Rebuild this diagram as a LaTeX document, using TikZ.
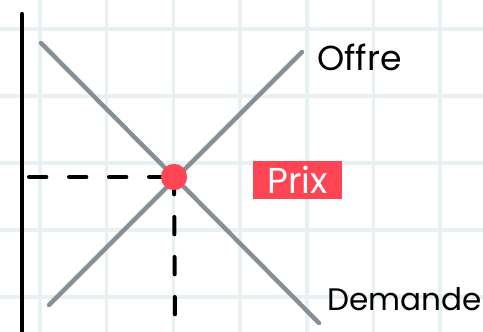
\documentclass[tikz,border=0pt]{standalone}
\usepackage{fontspec}
\setmainfont{Poppins}
\usepackage{xcolor}
\usepackage{tikz}
\usetikzlibrary{positioning,calc}

\definecolor{gridline}{HTML}{E8F0F1}
\definecolor{curvegray}{HTML}{868E96}
\definecolor{pricered}{HTML}{FF4553}

\tikzset{
  curve/.style={draw=curvegray, line width=3.3pt, line cap=round},
  guide/.style={draw=black, line width=3pt, line cap=round,
    dash pattern=on 13pt off 17pt},
  axisline/.style={draw=black, line width=3.2pt, line cap=round},
  eqdot/.style={circle, fill=pricered, minimum size=19.5pt, inner sep=0pt},
  tagbox/.style={fill=pricered, text=white, minimum width=66.75pt,
    minimum height=28.5pt, inner sep=0pt, font=\fontsize{27}{27}\selectfont},
  curvelabel/.style={text=black, inner sep=0pt, anchor=west,
    font=\fontsize{26}{26}\selectfont}
}

\begin{document}
\begin{tikzpicture}[x=0.75pt, y=0.75pt]
  \useasboundingbox (0,0) rectangle (483,332);
  \fill[white] (0,0) rectangle (483,332);

  % Squared paper behind the sketch.
  \foreach \column in {0,...,6} {
    \pgfmathsetmacro{\gx}{40+\column*66.7}
    \draw[gridline, line width=2.6pt] (\gx,0) -- (\gx,332);
  }
  \foreach \row in {0,...,4} {
    \pgfmathsetmacro{\gy}{303-\row*67}
    \draw[gridline, line width=2.6pt] (0,\gy) -- (483,\gy);
  }

  % Price axis.
  \coordinate (axis-top)    at (22,318);
  \coordinate (axis-bottom) at (22,-2);
  \draw[axisline] (axis-top) -- (axis-bottom);

  % Both curves, crossing at the equilibrium point.
  \coordinate (demand-start) at (41,289);
  \coordinate (demand-end)   at (319,9);
  \coordinate (supply-start) at (49,27);
  \coordinate (supply-end)   at (302,280);
  \draw[curve] (demand-start) -- (demand-end);
  \draw[curve] (supply-start) -- (supply-end);

  % Read-off lines towards the axis and down.
  \coordinate (price-foot) at (29,155);
  \coordinate (qty-foot)   at (175,9);
  \node[eqdot] (eq) at (174,155) {};
  \draw[guide] (price-foot) -- (eq.center);
  \draw[guide] (eq.center) -- (qty-foot);
  \node[eqdot] at (eq) {};

  \node[tagbox]     (prix)    at (297.5,152) {Prix};
  \node[curvelabel] (offre)   at (317,275)   {Offre};
  \node[curvelabel, font=\fontsize{23.3}{23.3}\selectfont]
    (demande) at (327,33) {Demande};
\end{tikzpicture}
\end{document}
